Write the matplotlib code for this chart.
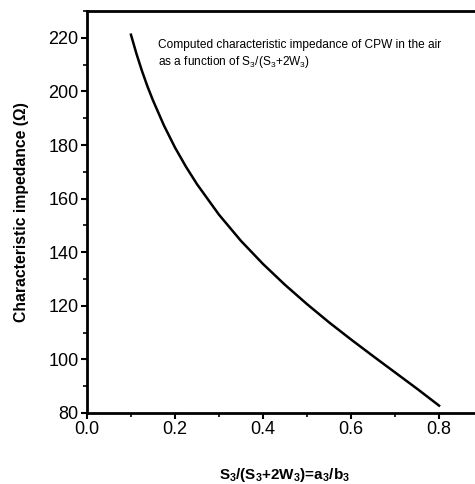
import numpy as np
import matplotlib
matplotlib.use("Agg")
import matplotlib.pyplot as plt
from matplotlib.ticker import MultipleLocator

plt.rcParams['font.family'] = ['Liberation Sans', 'DejaVu Sans']
plt.rcParams['mathtext.fontset'] = 'custom'
plt.rcParams['mathtext.rm'] = 'Liberation Sans'
plt.rcParams['mathtext.it'] = 'Liberation Sans:italic'
plt.rcParams['mathtext.bf'] = 'Liberation Sans:bold'

# ratio a3/b3 and impedance
ratio = [0.10, 0.1125, 0.125, 0.1375, 0.15, 0.175, 0.20, 0.225, 0.25,
         0.30, 0.35, 0.40, 0.45, 0.50, 0.55, 0.60, 0.65, 0.70, 0.75, 0.80]
impedance = [221.2, 214.1, 207.7, 201.9, 196.7, 187.3, 179.1, 171.9, 165.4,
             154.0, 144.2, 135.6, 127.8, 120.6, 113.8, 107.4, 101.2, 95.1,
             89.0, 82.7]

x_ticks = [0.0, 0.2, 0.4, 0.6, 0.8]
y_ticks = [80, 100, 120, 140, 160, 180, 200, 220]

fig = plt.figure(figsize=(4.75, 4.84), dpi=100)
ax = fig.add_axes([0.183, 0.147, 0.834, 0.830])

ax.plot(ratio, impedance, color='black', lw=1.8, solid_joinstyle='round')

ax.set_xlim(0, 0.9)
ax.set_ylim(80, 230)
ax.set_xticks(x_ticks)
ax.set_yticks(y_ticks)
ax.xaxis.set_minor_locator(MultipleLocator(0.1))
ax.yaxis.set_minor_locator(MultipleLocator(10))
ax.set_xticklabels(['%.1f' % v for v in x_ticks])

for s in ax.spines.values():
    s.set_linewidth(2)
ax.tick_params(which='major', direction='out', length=4, width=1.5, labelsize=13, pad=2)
ax.tick_params(which='minor', direction='out', length=3, width=1.2)

ax.set_ylabel('Characteristic impedance (Ω)', fontsize=11.3, fontweight='bold', labelpad=14)
sub = r'$_{\mathbf{3}}$'
ax.set_xlabel('S' + sub + '/(S' + sub + '+2W' + sub + ')=a' + sub + '/b' + sub,
              fontsize=11, fontweight='bold', labelpad=20)

ax.text(0.179, 0.93, 'Computed characteristic impedance of CPW in the air\n'
        r'as a function of S$_3$/(S$_3$+2W$_3$)',
        transform=ax.transAxes, fontsize=8.6, va='top', ha='left', linespacing=1.25)

fig.savefig('out.png', dpi=100)
